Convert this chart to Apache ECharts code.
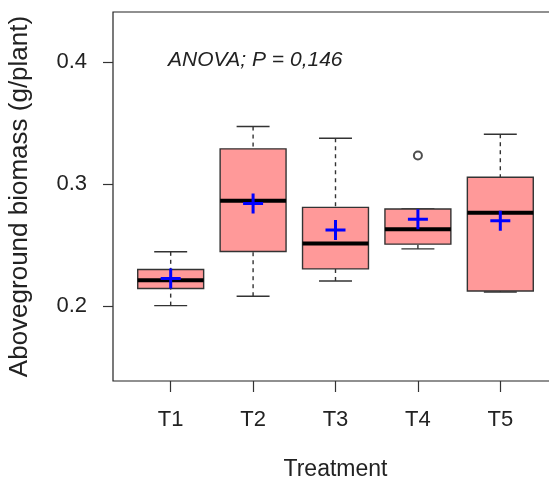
<!DOCTYPE html>
<html>
<head>
<meta charset="utf-8">
<script src="https://cdn.jsdelivr.net/npm/echarts@6/dist/echarts.min.js"></script>
<style>
  html, body { margin: 0; padding: 0; background: #fff; overflow: hidden; }
  #chart { width: 600px; height: 481px; }
</style>
</head>
<body>
<div id="chart"></div>
<script>
// treatments
const categories = ["T1", "T2", "T3", "T4", "T5"];
// boxplot stats (g/plant)
const lowerWhisker = [0.2003, 0.2080, 0.2205, 0.2468, 0.2115];
const q1Values = [0.2143, 0.2447, 0.2304, 0.2507, 0.2123];
const medians = [0.2211, 0.2863, 0.2513, 0.2630, 0.2764];
const q3Values = [0.2299, 0.3288, 0.2808, 0.2795, 0.3055];
const upperWhisker = [0.2444, 0.3471, 0.3375, 0.2795, 0.3408];
const means = [0.2225, 0.2841, 0.2622, 0.2712, 0.2699];
// outliers: [treatment index (1-based), value]
const outliers = [[4, 0.3233]];
const yTicks = [0.2, 0.3, 0.4];
const annotation = "ANOVA; P = 0,146";

const chart = echarts.init(document.getElementById("chart"));

const boxData = categories.map((c, i) => [
  i + 1,
  lowerWhisker[i],
  q1Values[i],
  medians[i],
  q3Values[i],
  upperWhisker[i],
]);
const meanData = means.map((m, i) => [i + 1, m]);

const FONT = "Liberation Sans, Arial, sans-serif";

const renderBox = (params, api) => {
  const x = api.value(0);
  const lo = api.coord([x, api.value(1)]);
  const q1 = api.coord([x, api.value(2)]);
  const med = api.coord([x, api.value(3)]);
  const q3 = api.coord([x, api.value(4)]);
  const hi = api.coord([x, api.value(5)]);
  const left = api.coord([x - 0.4, 0])[0];
  const right = api.coord([x + 0.4, 0])[0];
  const capL = api.coord([x - 0.2, 0])[0];
  const capR = api.coord([x + 0.2, 0])[0];
  const whiskerStyle = { stroke: "#333", lineWidth: 1.4, lineDash: [4, 4] };
  const solid = { stroke: "#333", lineWidth: 1.4 };
  return {
    type: "group",
    children: [
      { type: "line", shape: { x1: hi[0], y1: hi[1], x2: q3[0], y2: q3[1] }, style: whiskerStyle },
      { type: "line", shape: { x1: lo[0], y1: lo[1], x2: q1[0], y2: q1[1] }, style: whiskerStyle },
      { type: "line", shape: { x1: capL, y1: hi[1], x2: capR, y2: hi[1] }, style: solid },
      { type: "line", shape: { x1: capL, y1: lo[1], x2: capR, y2: lo[1] }, style: solid },
      {
        type: "rect",
        shape: { x: left, y: q3[1], width: right - left, height: q1[1] - q3[1] },
        style: { fill: "#FF9999", stroke: "#333", lineWidth: 1.4 },
      },
      { type: "line", shape: { x1: left, y1: med[1], x2: right, y2: med[1] }, style: { stroke: "#000", lineWidth: 4 } },
    ],
  };
};

const option = {
  animation: false,
  backgroundColor: "#fff",
  grid: {
    left: 113,
    top: 12,
    width: 445,
    height: 369,
    outerBoundsMode: "none",
    containLabel: false,
    show: true,
    borderColor: "#222",
    borderWidth: 1.2,
    backgroundColor: "transparent",
  },
  xAxis: {
    type: "value",
    min: 0.3,
    max: 5.7,
    name: "Treatment",
    nameLocation: "middle",
    nameGap: 77,
    nameTextStyle: { color: "#222", fontSize: 23, fontFamily: FONT },
    axisLine: { show: false },
    splitLine: { show: false },
    axisTick: {
      show: true,
      length: 11,
      customValues: [1, 2, 3, 4, 5],
      lineStyle: { color: "#333", width: 1.2 },
    },
    axisLabel: {
      customValues: [1, 2, 3, 4, 5],
      margin: 28,
      color: "#222",
      fontSize: 22,
      fontFamily: FONT,
      formatter: (v) => categories[Math.round(v) - 1] || "",
    },
  },
  yAxis: {
    type: "value",
    min: 0.1385,
    max: 0.441,
    name: "Aboveground biomass (g/plant)",
    nameLocation: "middle",
    nameGap: 80,
    nameTextStyle: { color: "#222", fontSize: 26, fontFamily: FONT },
    axisLine: { show: false },
    splitLine: { show: false },
    axisTick: {
      show: true,
      length: 10,
      customValues: yTicks,
      lineStyle: { color: "#333", width: 1.2 },
    },
    axisLabel: {
      customValues: yTicks,
      margin: 26,
      color: "#222",
      fontSize: 22,
      fontFamily: FONT,
      formatter: (v) => v.toFixed(1),
    },
  },
  graphic: [
    {
      type: "text",
      left: 168,
      top: 50,
      style: {
        text: annotation,
        fill: "#222",
        font: "italic 21px " + FONT,
      },
    },
  ],
  series: [
    {
      type: "custom",
      renderItem: renderBox,
      data: boxData,
      encode: { x: 0, y: [1, 2, 3, 4, 5] },
      clip: false,
    },
    {
      type: "scatter",
      data: outliers,
      symbol: "emptyCircle",
      symbolSize: 8,
      itemStyle: { color: "#222", borderColor: "#222", borderWidth: 1.2 },
    },
    {
      type: "scatter",
      data: meanData,
      symbol: "path://M8.5,0h3v8.5h8.5v3h-8.5v8.5h-3v-8.5h-8.5v-3h8.5z",
      symbolSize: 20,
      itemStyle: { color: "#0000FF", opacity: 1 },
    },
  ],
};

chart.setOption(option);
</script>
</body>
</html>
